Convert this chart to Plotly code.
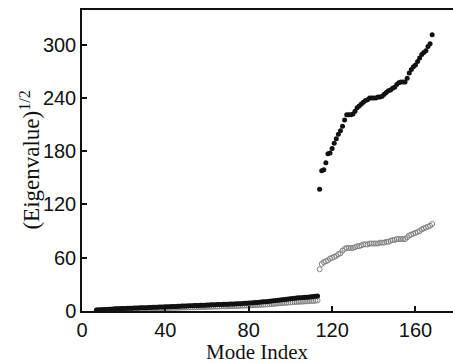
import plotly.graph_objects as go

# Low-frequency modes (7..113)
low_x = list(range(7, 114))
low_black = [1.0,1.2,1.4,1.5,1.7,1.8,2.0,2.1,2.2,2.4,2.5,2.6,2.7,2.8,
             2.9,3.0,3.1,3.2,3.3,3.4,3.5,3.6,3.6,3.7,3.8,3.9,4.0,4.1,4.2,4.3,4.4,4.5,4.6,4.7,
             4.8,4.9,5.0,5.1,5.2,5.3,5.4,5.5,5.6,5.7,5.8,5.9,6.0,6.1,6.2,6.3,6.4,6.5,6.6,6.7,
             6.8,6.9,7.0,7.1,7.2,7.3,7.4,7.5,7.6,7.7,7.8,7.9,8.0,8.1,8.2,8.3,8.5,8.6,8.8,9.0,
             9.1,9.3,9.5,9.7,9.9,10.1,10.3,10.5,10.7,10.9,11.2,11.5,11.8,12.1,12.4,12.7,13.0,13.3,13.6,13.9,
             14.2,14.4,14.6,14.8,15.0,15.2,15.4,15.6,15.8,16.0,16.2,16.5,17.0]
low_open = [0.7,0.8,1.0,1.1,1.2,1.3,1.4,1.5,1.6,1.7,1.8,1.8,1.9,2.0,
            2.0,2.1,2.2,2.2,2.3,2.4,2.5,2.5,2.5,2.6,2.7,2.7,2.8,2.9,2.9,3.0,3.1,3.2,3.2,3.3,
            3.4,3.4,3.5,3.6,3.6,3.7,3.8,3.9,3.9,4.0,4.1,4.1,4.2,4.3,4.3,4.4,4.5,4.6,4.6,4.7,
            4.8,4.8,4.9,5.0,5.0,5.1,5.2,5.3,5.3,5.4,5.5,5.5,5.6,5.7,5.7,5.8,6.0,6.0,6.2,6.3,
            6.4,6.5,6.7,6.8,6.9,7.1,7.2,7.4,7.5,7.6,7.8,8.1,8.3,8.5,8.7,8.9,9.1,9.3,9.5,9.7,
            9.9,10.1,10.2,10.4,10.5,10.6,10.8,10.9,11.1,11.2,11.3,11.6,11.9]

# High-frequency modes (114..168)
high_x = list(range(114, 169))
high_black = [137,158,159,167,177,178,183,189,194,199,203,208,215,221,221,221,222,225,229,231,
              233,235,237,238,240,240,240,240,241,241,242,244,246,248,249,251,252,255,257,258,
              258,258,262,268,272,275,277,281,285,289,291,293,298,301,311]
high_open = [47,53,55,56,57,59,60,61,62,64,65,68,70,71,71,71,71,72,73,73,
             74,75,75,75,76,76,76,76,76,77,77,77,78,78,79,80,80,81,81,81,
             81,81,83,85,86,87,88,89,90,92,93,94,95,96,98]

x_ticks = [0, 40, 80, 120, 160]
y_ticks = [0, 60, 120, 180, 240, 300]

fig = go.Figure()
open_marker = dict(symbol="circle-open", size=5, color="#808080", line=dict(width=1, color="#808080"))
filled_marker = dict(symbol="circle", size=5, color="#111111")

fig.add_trace(go.Scatter(x=low_x, y=low_open, mode="markers", marker=open_marker, showlegend=False))
fig.add_trace(go.Scatter(x=low_x, y=low_black, mode="markers", marker=filled_marker, showlegend=False))
fig.add_trace(go.Scatter(x=high_x, y=high_open, mode="markers", marker=open_marker, showlegend=False))
fig.add_trace(go.Scatter(x=high_x, y=high_black, mode="markers", marker=filled_marker, showlegend=False))

fig.update_layout(
    width=453, height=363,
    margin=dict(l=82, r=0, t=10, b=52),
    paper_bgcolor="white", plot_bgcolor="white",
    font=dict(family="Liberation Sans, Arial", size=20, color="#111"),
    xaxis=dict(range=[0, 178], tickvals=x_ticks, ticks="inside", ticklen=5, tickwidth=1.5,
               tickcolor="#111", showline=True, linecolor="#111", linewidth=1.5, mirror=True,
               showgrid=False, zeroline=False),
    yaxis=dict(range=[0, 339], tickvals=y_ticks, ticks="inside", ticklen=5, tickwidth=1.5,
               tickcolor="#111", showline=True, linecolor="#111", linewidth=1.5,
               showgrid=False, zeroline=False),
    annotations=[
        dict(text="Mode Index", xref="paper", yref="paper", x=0.4717, y=-0.136,
             xanchor="center", yanchor="middle", showarrow=False,
             font=dict(family="Liberation Serif, Times New Roman", size=21, color="#111")),
        dict(text="(Eigenvalue)<sup>1/2</sup>", xref="paper", yref="paper", x=-0.14, y=0.5,
             xanchor="center", yanchor="middle", showarrow=False, textangle=-90,
             font=dict(family="Liberation Serif, Times New Roman", size=23, color="#111")),
    ],
)

fig.write_html("out.html")
